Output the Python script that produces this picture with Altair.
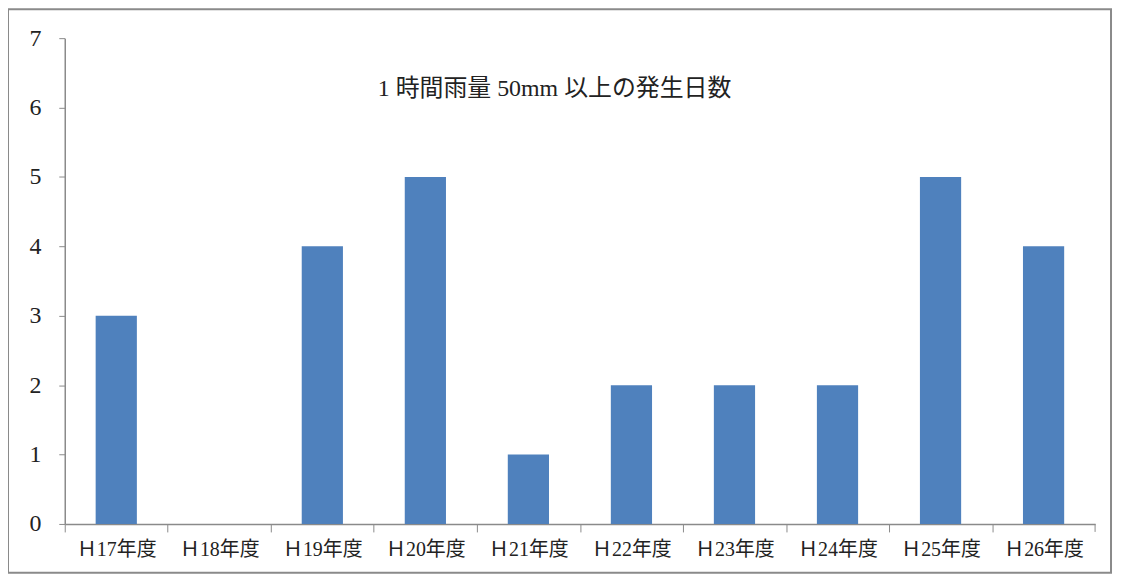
import altair as alt
import pandas as pd

years = ["Ｈ17年度", "Ｈ18年度", "Ｈ19年度", "Ｈ20年度", "Ｈ21年度",
         "Ｈ22年度", "Ｈ23年度", "Ｈ24年度", "Ｈ25年度", "Ｈ26年度"]
days = [3, 0, 4, 5, 1, 2, 2, 2, 5, 4]
title_text = "1 時間雨量 50mm 以上の発生日数"

df = pd.DataFrame({"year": years, "days": days})
FONT = "Liberation Serif, Noto Sans CJK JP"

W, H = 1035, 488
STEP = W / len(years)

bars = alt.Chart(df).mark_bar(color="#4F81BD", strokeWidth=0).encode(
    x=alt.X("year:N", sort=years, title=None,
            scale=alt.Scale(paddingInner=0.6, paddingOuter=0.3),
            axis=alt.Axis(labelAngle=0, labelFontSize=20, labelFont=FONT, labelColor="#222",
                          domainColor="#8a8a8a", tickColor="#8a8a8a", tickSize=8,
                          tickOffset=-STEP / 2, labelOffset=STEP / 2,
                          labelPadding=8, domainWidth=1.5)),
    y=alt.Y("days:Q", title=None,
            scale=alt.Scale(domain=[0, 7], nice=False),
            axis=alt.Axis(values=[0, 1, 2, 3, 4, 5, 6, 7], grid=False, labelFontSize=24,
                          labelFont=FONT, labelColor="#222", domainColor="#8a8a8a",
                          tickColor="#8a8a8a", tickSize=6, labelPadding=18, domainWidth=1.5)),
)

title = alt.Chart(pd.DataFrame({"t": [title_text]})).mark_text(
    font=FONT, fontSize=24, color="#222", align="center", baseline="middle"
).encode(x=alt.value(492), y=alt.value(51), text="t:N")

border = alt.Chart(pd.DataFrame({"a": [0]})).mark_rect(
    filled=False, stroke="#8a8a8a", strokeWidth=2
).encode(x=alt.value(-57), x2=alt.value(1051), y=alt.value(-29), y2=alt.value(537))

endtick = alt.Chart(pd.DataFrame({"a": [0]})).mark_rule(color="#8a8a8a").encode(
    x=alt.value(W), y=alt.value(H), y2=alt.value(H + 8))

chart = alt.layer(border, bars, title, endtick).properties(
    width=W, height=H,
    autosize=alt.AutoSizeParams(type="none"),
    padding={"left": 57, "top": 29, "right": 20, "bottom": 50},
).configure_view(stroke=None)

chart.save("out.html", embed_options={"renderer": "svg", "actions": False})
